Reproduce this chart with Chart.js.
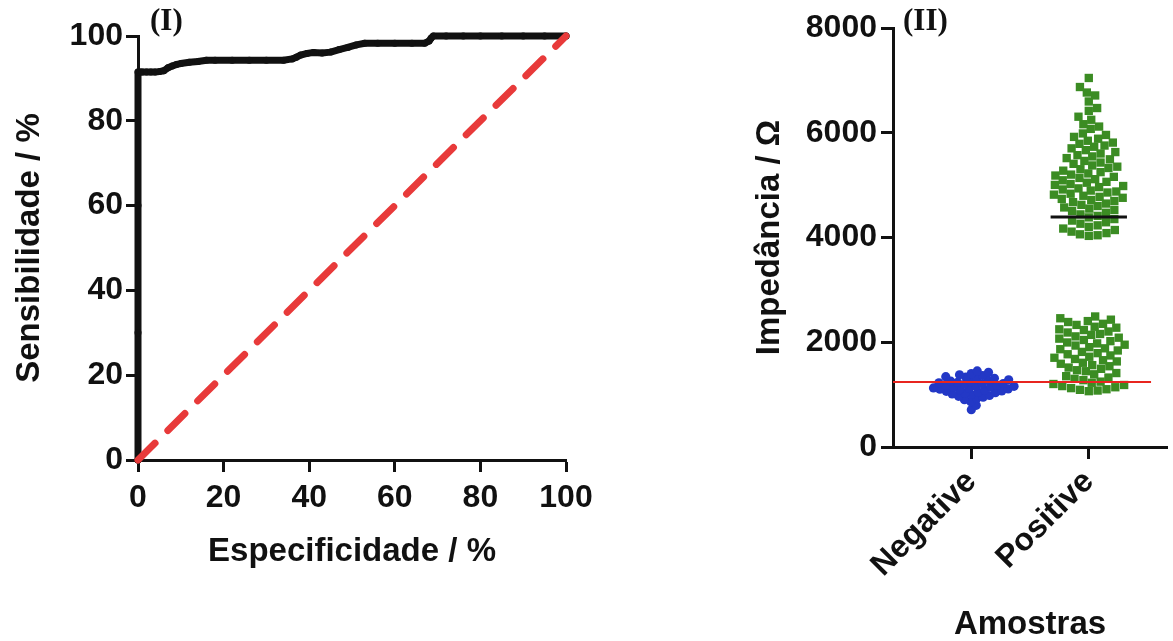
<!DOCTYPE html>
<html><head><meta charset="utf-8">
<script src="https://cdn.jsdelivr.net/npm/chart.js@4.4.1/dist/chart.umd.min.js"></script>
<style>
html,body{margin:0;padding:0;background:#fff;width:1173px;height:641px;overflow:hidden}
#left{position:absolute;left:0;top:0}
#right{position:absolute;left:620px;top:0}
</style></head><body>
<canvas id="left" width="620" height="641"></canvas>
<canvas id="right" width="553" height="641"></canvas>
<script>
// ---------- DATA ----------
// Panel (I): ROC curve
const rocSpec = [0, 0, 0, 0, 0.5, 1, 2, 3, 4, 5, 6, 7, 8, 9, 10, 12, 14, 16, 18, 22, 26, 30, 34, 36, 37, 38, 39.5, 41, 43, 45, 47, 49, 51, 53, 56, 60, 64, 67, 68, 68.5, 69, 72, 76, 80, 85, 90, 95, 100];
const rocSens = [0, 30, 60, 91.5, 91.5, 91.5, 91.5, 91.5, 91.5, 91.6, 91.8, 92.5, 92.9, 93.3, 93.5, 93.8, 94.0, 94.3, 94.3, 94.3, 94.3, 94.3, 94.3, 94.6, 95.0, 95.5, 95.9, 96.1, 96.0, 96.2, 96.8, 97.3, 97.9, 98.3, 98.3, 98.3, 98.3, 98.3, 98.8, 99.5, 100, 100, 100, 100, 100, 100, 100, 100];
const chanceSpec = [0, 100];
const chanceSens = [0, 100];
const rocTickStep = 20;

// Panel (II): impedance per sample group
const categories = ['Negative', 'Positive'];
const negativeValues = [712, 795, 866, 903, 928, 951, 968, 983, 1002, 1014, 1027, 1038, 1049, 1063, 1071, 1086, 1094, 1103, 1108, 1121, 1127, 1139, 1152, 1158, 1167, 1174, 1186, 1193, 1207, 1212, 1226, 1233, 1248, 1257, 1272, 1283, 1302, 1311, 1334, 1342, 1365, 1378, 1401, 1426, 1452];
const positiveValues = [
  2492, 2458, 2431, 2404, 2386, 2352, 2331, 2296, 2278, 2247, 2233, 2205, 2186, 2158, 2141, 2112, 2087, 2069, 2043, 2021,
  1996, 1978, 1953, 1937, 1906, 1884, 1867, 1843, 1816, 1792, 1771, 1748, 1723, 1704, 1681, 1657, 1634, 1608, 1589, 1563,
  1542, 1517, 1493, 1466, 1447, 1412, 1388, 1352, 1326, 1301, 1276, 1248, 1226, 1203, 1184, 1163, 1141, 1124, 1103, 1092, 1078, 1066,
  7046, 6873, 6768, 6712, 6597, 6472, 6418, 6306, 6248, 6163, 6118, 6074, 5987, 5958, 5921, 5886, 5847, 5812, 5789, 5756,
  5733, 5702, 5668, 5631, 5604, 5572, 5548, 5516, 5493, 5462, 5431, 5407, 5376, 5352, 5327, 5304, 5276, 5248, 5223, 5201,
  5183, 5158, 5137, 5114, 5092, 5063, 5046, 5021, 5004, 4983, 4962, 4938, 4917, 4896, 4878, 4859, 4836, 4818, 4797, 4776,
  4758, 4737, 4716, 4697, 4674, 4648, 4623, 4601, 4574, 4552, 4526, 4503, 4472, 4441, 4413, 4384, 4352, 4323, 4291, 4263,
  4232, 4203, 4171, 4143, 4112, 4084, 4061, 4043, 4031];
const cutoffValue = 1240;
const cutoffRange = [0.3333, 2.53];
const positiveMarkValue = 4390;
const positiveMarkRange = [1.675, 2.325];
const impTickStep = 2000;
const impMax = 8000;
const catMin = 1 / 3, catMax = 8 / 3;

// ---------- STYLE / LAYOUT ----------
const FONT = '"Liberation Sans", Arial, Helvetica, sans-serif';
const INK = '#111111';
const tickFont = {family: FONT, size: 32, weight: 'bold'};
const titleFont = {family: FONT, size: 33, weight: 'bold'};
const R_AREA_W = 279, R_AREA_H = 419;

function axisGrid() {
  return {drawOnChartArea: false, drawTicks: true, tickLength: 12, tickWidth: 3, tickColor: INK};
}
function axisBorder() { return {display: true, width: 3, color: INK}; }

const panelLabel = {
  id: 'panelLabel',
  afterDraw(chart, args, opts) {
    const {ctx, chartArea} = chart;
    ctx.save();
    ctx.font = 'bold 31px "Liberation Serif", "Times New Roman", serif';
    ctx.fillStyle = INK;
    ctx.textBaseline = 'middle';
    ctx.textAlign = 'left';
    ctx.fillText(opts.text, chartArea.left + opts.dx, chartArea.top + opts.dy);
    ctx.restore();
  }
};

// beeswarm layout (collision-free horizontal spreading in pixel space)
function swarm(values, center, diam) {
  const pxX = R_AREA_W / (catMax - catMin), pxY = R_AREA_H / impMax;
  const sorted = values.slice().sort((a, b) => a - b);
  const placed = [];
  const out = [];
  for (const v of sorted) {
    const y = v * pxY;
    let chosen = 0;
    for (let k = 0; k < 2000; k++) {
      const cand = k === 0 ? 0 : (k % 2 ? 1 : -1) * Math.ceil(k / 2) * 0.5;
      let ok = true;
      for (const p of placed) {
        const dx = p[0] - cand, dy = p[1] - y;
        if (dx * dx + dy * dy < diam * diam) { ok = false; break; }
      }
      if (ok) { chosen = cand; break; }
    }
    placed.push([chosen, y]);
    out.push({x: center + chosen / pxX, y: v});
  }
  return out;
}

Chart.defaults.font.family = FONT;
Chart.defaults.color = INK;

// ---------- PANEL (I) ----------
new Chart(document.getElementById('left'), {
  type: 'scatter',
  data: {
    datasets: [
      {
        data: chanceSpec.map((x, i) => ({x, y: chanceSens[i]})),
        showLine: true, borderColor: '#e83a3a', borderWidth: 7, borderDash: [24, 18],
        borderCapStyle: 'round', pointRadius: 0, clip: false
      },
      {
        data: rocSpec.map((x, i) => ({x, y: rocSens[i]})),
        showLine: true, borderColor: INK, borderWidth: 7, borderJoinStyle: 'round', borderCapStyle: 'round',
        pointRadius: 3.5, pointBackgroundColor: INK, pointBorderWidth: 0, clip: false
      }
    ]
  },
  options: {
    responsive: false, animation: false, devicePixelRatio: 1,
    layout: {padding: {top: 36, right: 54, left: 0, bottom: 0}},
    plugins: {legend: {display: false}, tooltip: {enabled: false},
      panelLabel: {text: '(I)', dx: 12, dy: -14}},
    scales: {
      x: {
        type: 'linear', min: 0, max: 100,
        ticks: {stepSize: rocTickStep, font: tickFont, color: INK, padding: 7, maxRotation: 0, minRotation: 0,
          callback: v => String(v)},
        grid: axisGrid(), border: axisBorder(),
        title: {display: true, text: 'Especificidade / %', font: titleFont, color: INK, padding: {bottom: 69}},
        afterFit(s) { s.height = 181; }
      },
      y: {
        type: 'linear', min: 0, max: 100,
        ticks: {stepSize: rocTickStep, font: tickFont, color: INK, padding: 3, callback: v => String(v)},
        grid: axisGrid(), border: axisBorder(),
        title: {display: true, text: 'Sensibilidade / %', font: titleFont, color: INK, padding: {top: 10}},
        afterFit(s) { s.width = 138; }
      }
    }
  },
  plugins: [panelLabel]
});

// ---------- PANEL (II) ----------
new Chart(document.getElementById('right'), {
  type: 'scatter',
  data: {
    datasets: [
      {
        data: cutoffRange.map(x => ({x, y: cutoffValue})),
        showLine: true, borderColor: '#e8251f', borderWidth: 2, pointRadius: 0, clip: false
      },
      {
        data: positiveMarkRange.map(x => ({x, y: positiveMarkValue})),
        showLine: true, borderColor: INK, borderWidth: 3, pointRadius: 0, clip: false
      },
      {
        data: swarm(negativeValues, 1, 6.5),
        pointStyle: 'circle', pointRadius: 4.6, pointBackgroundColor: '#2338c6',
        pointBorderColor: '#2338c6', pointBorderWidth: 0, clip: false
      },
      {
        data: swarm(positiveValues, 2, 8.8),
        pointStyle: 'rect', pointRadius: 5.9, pointBackgroundColor: '#3b8c23',
        pointBorderColor: '#3b8c23', pointBorderWidth: 0, clip: false
      }
    ]
  },
  options: {
    responsive: false, animation: false, devicePixelRatio: 1,
    layout: {padding: {top: 28, right: 1, left: 0, bottom: 0}},
    plugins: {legend: {display: false}, tooltip: {enabled: false},
      panelLabel: {text: '(II)', dx: 10, dy: -6}},
    scales: {
      x: {
        type: 'linear', min: catMin, max: catMax,
        afterBuildTicks(s) { s.ticks = categories.map((c, i) => ({value: i + 1})); },
        ticks: {font: tickFont, color: INK, padding: 4, autoSkip: false, minRotation: 45, maxRotation: 45,
          callback: v => categories[Math.round(v) - 1] || ''},
        grid: axisGrid(), border: axisBorder(),
        title: {display: true, text: 'Amostras', font: {family: FONT, size: 33, weight: 'bold', lineHeight: 1}, color: INK, padding: {bottom: 0}},
        afterFit(s) { s.height = 194; }
      },
      y: {
        type: 'linear', min: 0, max: impMax,
        ticks: {stepSize: impTickStep, font: tickFont, color: INK, padding: 4, callback: v => String(v)},
        grid: axisGrid(), border: axisBorder(),
        title: {display: true, text: 'Impedância / Ω', font: titleFont, color: INK, padding: {top: 130}},
        afterFit(s) { s.width = 273; }
      }
    }
  },
  plugins: [panelLabel]
});
</script>
</body></html>
